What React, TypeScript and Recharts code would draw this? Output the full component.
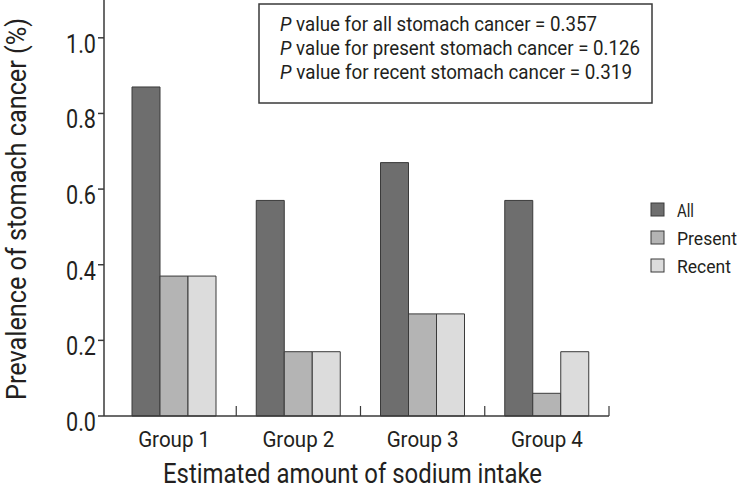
import { BarChart, Bar, XAxis, YAxis, Legend } from 'recharts';

const groups = ['Group 1', 'Group 2', 'Group 3', 'Group 4'];
const allCancer = [0.87, 0.57, 0.67, 0.57];
const presentCancer = [0.37, 0.17, 0.27, 0.06];
const recentCancer = [0.37, 0.17, 0.27, 0.17];
const yTicks = [0, 0.2, 0.4, 0.6, 0.8, 1.0];
const pValues = [
  { label: 'all', value: '0.357' },
  { label: 'present', value: '0.126' },
  { label: 'recent', value: '0.319' },
];

const data = groups.map((g, i) => ({
  name: g,
  All: allCancer[i],
  Present: presentCancer[i],
  Recent: recentCancer[i],
}));

// no condensed face installed, so text is squeezed to the reference widths
const FONT = 'Roboto, sans-serif';
const INK = '#231f20';
const AXIS = '#3a3a3a';
const legendWidths: Record<string, number> = { All: 17, Present: 60, Recent: 54 };
const boxWidths = [317, 360, 352];

const GroupTick = (props: any) => {
  const { x, y, payload } = props;
  const off = payload?.offset ?? 0;
  return (
    <g>
      <line x1={x + off} x2={x + off} y1={y} y2={y - 10} stroke={AXIS} strokeWidth={1.2} />
      <text
        x={x - 36}
        y={y + 31}
        textLength={72}
        lengthAdjust="spacingAndGlyphs"
        fill={INK}
        fontSize={22}
        fontFamily={FONT}
      >
        {payload.value}
      </text>
    </g>
  );
};

const ValueTick = (props: any) => {
  const { x, y, payload } = props;
  return (
    <text
      x={x - 30}
      y={y + 15}
      textLength={30}
      lengthAdjust="spacingAndGlyphs"
      fill={INK}
      fontSize={25}
      fontFamily={FONT}
    >
      {Number(payload.value).toFixed(1)}
    </text>
  );
};

const LegendBox = (props: any) => {
  const { payload } = props;
  return (
    <svg width={100} height={90} style={{ display: 'block' }}>
      {(payload || []).map((p: any, i: number) => (
        <g key={p.value}>
          <rect x={2} y={8 + i * 28} width={13} height={13} fill={p.color} stroke={AXIS} strokeWidth={1} />
          <text
            x={28}
            y={22 + i * 28}
            textLength={legendWidths[p.value]}
            lengthAdjust="spacingAndGlyphs"
            fill={INK}
            fontSize={18}
            fontFamily={FONT}
          >
            {p.value}
          </text>
        </g>
      ))}
    </svg>
  );
};

export default function App() {
  return (
    <div style={{ position: 'relative', width: 742, height: 490, background: '#fff' }}>
      <style>{`body{margin:0}`}</style>
      <BarChart
        width={742}
        height={490}
        data={data}
        margin={{ top: 0, right: 33, left: 0, bottom: 0 }}
        barSize={28}
        barGap={0}
      >
        <XAxis
          dataKey="name"
          height={74}
          padding={{ left: 8, right: 0 }}
          stroke={AXIS}
          strokeWidth={1.5}
          tickLine={false}
          tickSize={0}
          tickMargin={0}
          tick={<GroupTick />}
          interval={0}
          label={{
            content: () => (
              <text
                x={163}
                y={483}
                textLength={379}
                lengthAdjust="spacingAndGlyphs"
                fill={INK}
                fontSize={27}
                fontFamily={FONT}
              >
                Estimated amount of sodium intake
              </text>
            ),
          }}
        />
        <YAxis
          width={104}
          domain={[0, 1.1]}
          ticks={yTicks}
          stroke={AXIS}
          strokeWidth={1.5}
          tickSize={6}
          tick={<ValueTick />}
          label={{
            content: () => (
              <text
                x={26}
                y={400}
                transform="rotate(-90, 26, 400)"
                textLength={382}
                lengthAdjust="spacingAndGlyphs"
                fill={INK}
                fontSize={27}
                fontFamily={FONT}
              >
                Prevalence of stomach cancer (%)
              </text>
            ),
          }}
        />
        <Legend
          layout="vertical"
          verticalAlign="top"
          align="right"
          width={100}
          content={<LegendBox />}
          wrapperStyle={{ left: 649, top: 195, width: 100 }}
        />
        <Bar dataKey="All" fill="#6e6e6e" stroke={AXIS} strokeWidth={1} isAnimationActive={false} />
        <Bar dataKey="Present" fill="#b4b4b4" stroke={AXIS} strokeWidth={1} isAnimationActive={false} />
        <Bar dataKey="Recent" fill="#dcdcdc" stroke={AXIS} strokeWidth={1} isAnimationActive={false} />
      </BarChart>
      <svg style={{ position: 'absolute', left: 0, top: 0 }} width={742} height={110}>
        <rect x={259} y={4} width={393} height={99} fill="#fff" stroke={AXIS} strokeWidth={1.5} />
        {pValues.map((r, i) => (
          <text
            key={r.label}
            x={280}
            y={31 + i * 24}
            textLength={boxWidths[i]}
            lengthAdjust="spacingAndGlyphs"
            fill={INK}
            fontSize={20}
            fontFamily={FONT}
          >
            <tspan fontStyle="italic">P</tspan> value for {r.label} stomach cancer = {r.value}
          </text>
        ))}
      </svg>
    </div>
  );
}
